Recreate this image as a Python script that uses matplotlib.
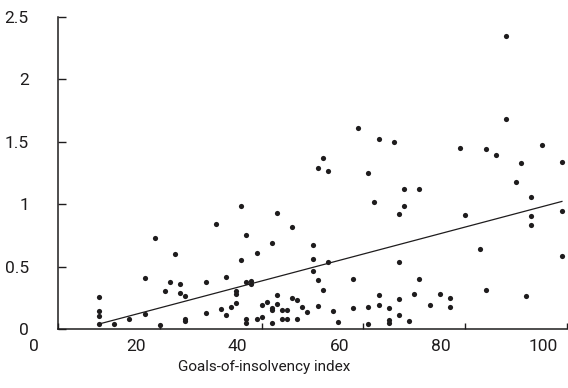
import matplotlib
matplotlib.use("Agg")
import matplotlib.pyplot as plt
import matplotlib.transforms as mtransforms
import numpy as np

plt.rcParams["font.family"] = ["Roboto", "DejaVu Sans"]

INK = "#1e1c1d"

# ── data ──────────────────────────────────────────────────────────────────────
goals_index = [
    8, 8, 8, 8, 11, 14, 17, 17, 19, 20, 21, 22, 23, 24, 24, 25, 25, 25,
    29, 29, 31, 32, 33, 33, 34, 35, 35, 35, 36, 36, 37, 37, 37, 37, 38, 38,
    39, 39, 40, 40, 41, 42, 42, 42, 42, 43, 43, 43, 44, 44, 45, 45, 46, 46,
    47, 47, 48, 49, 50, 50, 50, 51, 51, 51, 52, 52, 53, 53, 54, 55, 58, 58,
    59, 61, 61, 61, 62, 63, 63, 63, 65, 65, 65, 66, 67, 67, 67, 67, 68, 68,
    69, 70, 71, 71, 73, 75, 77, 77, 79, 80, 83, 84, 84, 86, 88, 88, 90, 91,
    92, 93, 93, 93, 95, 99, 99, 99,
]
outcome = [
    0.26, 0.148, 0.108, 0.038, 0.04, 0.078, 0.118, 0.409, 0.729, 0.03,
    0.306, 0.374, 0.599, 0.358, 0.286, 0.263, 0.084, 0.068,
    0.379, 0.126, 0.844, 0.16, 0.417, 0.115, 0.176, 0.306, 0.284, 0.212,
    0.988, 0.553, 0.756, 0.375, 0.084, 0.052, 0.386, 0.358,
    0.611, 0.082, 0.195, 0.096, 0.216, 0.689, 0.166, 0.15, 0.046, 0.929,
    0.27, 0.2, 0.15, 0.082, 0.15, 0.082, 0.815, 0.252,
    0.235, 0.078, 0.175, 0.136, 0.671, 0.558, 0.467, 1.29, 0.389, 0.188,
    1.37, 0.31, 1.264, 0.533, 0.142, 0.054, 0.401, 0.17,
    1.612, 1.246, 0.179, 0.038, 1.015, 1.524, 0.274, 0.191, 0.17, 0.076,
    0.046, 1.498, 0.92, 0.537, 0.244, 0.112, 1.122, 0.982,
    0.064, 0.283, 1.122, 0.401, 0.192, 0.284, 0.248, 0.179, 1.45, 0.916,
    0.639, 1.44, 0.31, 1.397, 2.348, 1.68, 1.178, 1.33,
    0.267, 1.059, 0.905, 0.831, 1.474, 1.336, 0.946, 0.587,
]
trend_coef = [0.0108, -0.047]   # slope, intercept of the drawn fit line

x_ticks = [0, 20, 40, 60, 80, 100]
x_tick_labels = ["0", "20", "40", "60", "80", "100"]
y_ticks = [0, 0.5, 1, 1.5, 2, 2.5]
y_tick_labels = ["0", "0.5", "1", "1.5", "2", "2.5"]

# ── figure ────────────────────────────────────────────────────────────────────
fig = plt.figure(figsize=(5.68, 3.88), dpi=100)
ax = fig.add_axes([58 / 568, 59 / 388, 509 / 568, 312 / 388])

ax.scatter(goals_index, outcome, s=14, color=INK, linewidths=0, zorder=3)
xl = np.array([min(goals_index), max(goals_index)])
ax.plot(xl, trend_coef[0] * xl + trend_coef[1], color=INK, lw=0.9, zorder=2)

ax.set_xlim(0, 100)
ax.set_ylim(0, 2.5)
ax.spines[["top", "right"]].set_visible(False)
for s in ("left", "bottom"):
    ax.spines[s].set_linewidth(1.1)
    ax.spines[s].set_color(INK)

ax.set_xticks(x_ticks, x_tick_labels)
ax.set_yticks(y_ticks, y_tick_labels)
ax.tick_params(axis="x", direction="in", length=4, width=1, color=INK,
               labelsize=12.5, pad=7, labelcolor=INK)
ax.tick_params(axis="y", direction="in", length=6, width=1, color=INK,
               labelsize=12.5, pad=21, labelcolor=INK)

# x tick labels sit left of their tick marks in the original
shift = mtransforms.ScaledTranslation(-24 / 100, 0, fig.dpi_scale_trans)
for lab in ax.get_xticklabels():
    lab.set_transform(lab.get_transform() + shift)

ax.set_xlabel("Goals-of-insolvency index", fontsize=11, color=INK, va="center")
ax.xaxis.set_label_coords(206 / 509, -38 / 312)

fig.savefig("out.png", dpi=100)
